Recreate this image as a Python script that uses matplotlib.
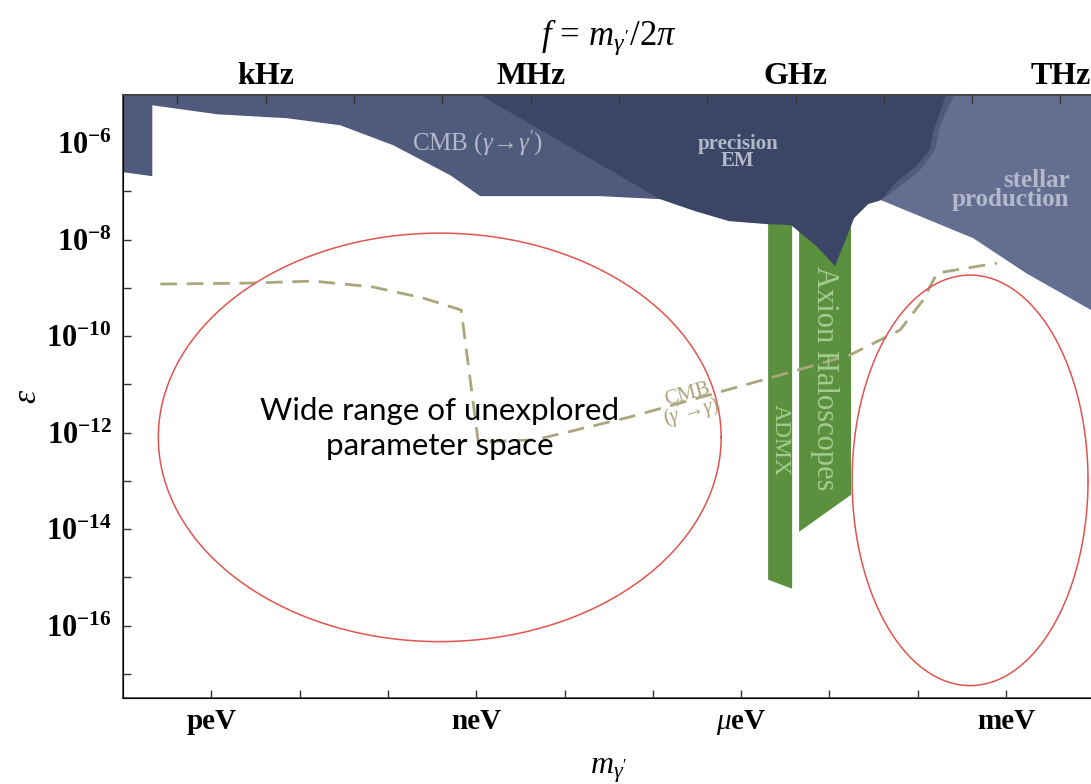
import numpy as np
import matplotlib
matplotlib.use('Agg')  # no display
import matplotlib.pyplot as plt
from matplotlib.ticker import FixedLocator, NullFormatter

plt.rcParams['font.family'] = ['Liberation Serif', 'DejaVu Serif']
plt.rcParams['mathtext.fontset'] = 'custom'
plt.rcParams['mathtext.rm'] = 'Liberation Serif'
plt.rcParams['mathtext.it'] = 'Liberation Serif:italic'
plt.rcParams['mathtext.bf'] = 'Liberation Serif:bold'

# all shapes below are log10(mass / eV), log10(epsilon)
cmb_x = [-13.0, -13.0, -12.668, -12.668, -11.932, -11.140, -10.540, -9.940,
         -9.294, -8.955, -7.596, -6.917, -6.917, -13.0]
cmb_y = [-4.9, -6.600, -6.683, -5.213, -5.400, -5.482, -5.627, -6.041,
         -6.663, -7.097, -7.097, -7.159, -4.9, -4.9]

prec_x = [-9.05, -6.917, -6.521, -6.136, -5.705, -5.434, -5.147, -5.072,
          -4.936, -4.845, -4.720, -4.562, -4.415, -4.256, -4.019, -3.860,
          -3.826, -3.690, -3.68]
prec_y = [-4.9, -7.159, -7.408, -7.615, -7.677, -7.698, -8.133, -8.277,
          -8.547, -8.133, -7.553, -7.263, -7.180, -6.828, -6.476, -6.124,
          -5.772, -5.048, -4.9]

band_x = [-3.68, -3.56, -3.747, -3.804, -3.974, -4.256, -4.415]
band_y = [-4.9, -4.9, -5.627, -6.145, -6.559, -6.973, -7.180]

stellar_x = [-4.415, -3.373, -2.773, -1.9, -1.9, -3.9]
stellar_y = [-7.180, -7.967, -8.692, -9.60, -4.9, -4.9]

admx_x = [-5.694, -5.422, -5.422, -5.694]
admx_y = [-7.5, -7.5, -15.234, -15.048]

halo_x = [-5.343, -4.755, -4.755, -5.343]
halo_y = [-7.5, -7.5, -13.288, -14.054]

# CMB (gamma' -> gamma) dashed limit
cmb2_x = [-12.577, -11.558, -10.845, -10.166, -9.600, -9.170, -8.977,
          -8.332, -7.256, -5.671, -4.766, -4.200, -3.939, -3.781, -3.102]
cmb2_y = [-8.919, -8.899, -8.857, -8.981, -9.209, -9.458, -12.190,
          -12.149, -11.673, -10.865, -10.389, -9.872, -9.251, -8.692, -8.484]

# unexplored regions: centre and half-axes (decades)
ell_cx = [-9.413, -3.407]
ell_cy = [-12.097, -12.988]
ell_rx = [3.187, 1.336]
ell_ry = [4.234, 4.255]

mass_ticks = [-12, -9, -6, -3]
mass_labels = ['peV', 'neV', r'$\mu$eV', 'meV']
freq_ticks = [3, 6, 9, 12]
freq_labels = ['kHz', 'MHz', 'GHz', 'THz']
eps_ticks = [-16, -14, -12, -10, -8, -6]

H_EV = 4.1357e-15  # eV s

c_dark = '#3b4666'
c_mid = '#4f5a7c'
c_light = '#646e90'
c_green = '#5a903e'
c_reg_txt = '#b3b9cb'


def lp(v):
    return 10 ** np.asarray(v, dtype=float)


fig = plt.figure(figsize=(10.91, 7.84), dpi=100)
ax = fig.add_axes([123 / 1091, 1 - 698 / 784, (1094.3 - 123) / 1091, (698 - 95) / 784])
ax.set_xscale('log')
ax.set_yscale('log')
ax.set_xlim(1e-13, 1e-2)
ax.set_ylim(10 ** -17.5, 1e-5)

# green haloscope bands go under the exclusion regions
ax.fill(lp(admx_x), lp(admx_y), color=c_green, lw=0, zorder=1)
ax.fill(lp(halo_x), lp(halo_y), color=c_green, lw=0, zorder=1)

ax.fill(lp(stellar_x), lp(stellar_y), color=c_light, lw=0, zorder=2)
ax.fill(lp(cmb_x), lp(cmb_y), color=c_mid, lw=0, zorder=2)
ax.fill(lp(band_x), lp(band_y), color=c_mid, lw=0, zorder=2)
ax.fill(lp(prec_x), lp(prec_y), color=c_dark, lw=0, zorder=3)

ax.plot(lp(cmb2_x), lp(cmb2_y), color='#a9a87c', lw=2, dashes=(6, 3.5), zorder=4)

t = np.linspace(0, 2 * np.pi, 400)
for cx, cy, rx, ry in zip(ell_cx, ell_cy, ell_rx, ell_ry):
    ax.plot(lp(cx + rx * np.cos(t)), lp(cy + ry * np.sin(t)), color='#e2544f', lw=1.1, zorder=5)

# region labels
ax.text(lp(-8.99), lp(-6.0), r"CMB ($\gamma\!\rightarrow\!\gamma'$)", color=c_reg_txt,
        fontsize=18, ha='center', va='center', zorder=6)
ax.text(lp(-6.04), lp(-6.19), 'precision\nEM', color=c_reg_txt, fontsize=15,
        fontweight='bold', ha='center', va='center', linespacing=0.85, zorder=6)
ax.text(lp(-2.28), lp(-6.97), 'stellar\nproduction', color=c_reg_txt, fontsize=18,
        fontweight='bold', ha='right', va='center', linespacing=0.8, zorder=6)
ax.text(lp(-5.558), lp(-12.15), 'ADMX', color='#a3cd8e', fontsize=17,
        rotation=-90, ha='center', va='center', zorder=6)
ax.text(lp(-5.06), lp(-10.87), 'Axion Haloscopes', color='#a3cd8e', fontsize=22,
        rotation=-90, ha='center', va='center', zorder=6)
ax.text(lp(-6.58), lp(-11.42), "CMB\n" + r"($\gamma'\!\rightarrow\!\gamma$)", color='#a9a57c',
        fontsize=15, rotation=15, ha='center', va='center', linespacing=0.75, zorder=6)
ax.text(lp(-9.41), lp(-11.92), 'Wide range of unexplored\nparameter space', color='black',
        fontsize=22.5, family='Lato', ha='center', va='center', linespacing=1.3, zorder=7)

# bottom axis: one tick per decade of mass
ax.xaxis.set_major_locator(FixedLocator(lp(mass_ticks)))
ax.xaxis.set_minor_locator(FixedLocator(lp(np.arange(-12, -1))))
ax.xaxis.set_minor_formatter(NullFormatter())
ax.set_xticklabels(mass_labels, fontsize=21, fontweight='bold')

ax.yaxis.set_major_locator(FixedLocator(lp(eps_ticks)))
ax.yaxis.set_minor_locator(FixedLocator(lp(np.arange(-17, -4))))
ax.yaxis.set_minor_formatter(NullFormatter())
ax.set_yticklabels([r'$\mathbf{10^{%d}}$' % e for e in eps_ticks], fontsize=22)

ax.tick_params(which='both', direction='in', length=6, width=1, color='#333333')
ax.tick_params(axis='x', pad=7)
ax.tick_params(axis='y', pad=8)
ax.spines['right'].set_visible(False)
for s in ['left', 'bottom', 'top']:
    ax.spines[s].set_color('#444444')
    ax.spines[s].set_linewidth(1.2)

ax.set_xlabel(r"$m_{\gamma'}$", fontsize=23, labelpad=14)
ax.set_ylabel(r'$\varepsilon$', fontsize=24, labelpad=2)

# top axis in frequency, f = m / 2pi
top = ax.twiny()
top.set_xscale('log')
top.set_xlim(ax.get_xlim())
top.xaxis.set_major_locator(FixedLocator(H_EV * lp(freq_ticks)))
top.xaxis.set_minor_locator(FixedLocator(H_EV * lp(np.arange(2, 13))))
top.xaxis.set_minor_formatter(NullFormatter())
top.set_xticklabels(freq_labels, fontsize=23, fontweight='bold')
top.tick_params(which='both', direction='in', length=6, width=1, color='#333333', pad=3)
top.spines['right'].set_visible(False)
top.spines['top'].set_color('#444444')
top.spines['top'].set_linewidth(1.2)
top.set_xlabel(r"$f\,=\,m_{\gamma'}/2\pi$", fontsize=25, labelpad=12)

fig.savefig('out.png', dpi=100)
plt.close(fig)
